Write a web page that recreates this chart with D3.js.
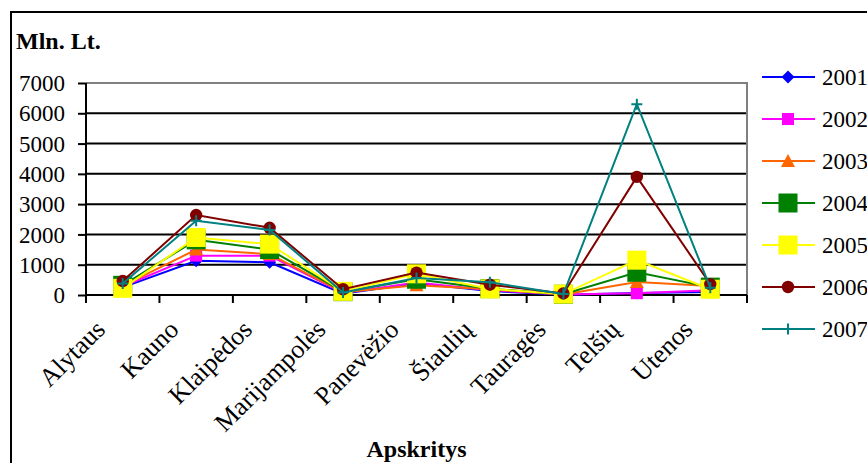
<!DOCTYPE html>
<html><head><meta charset="utf-8">
<script src="https://cdn.jsdelivr.net/npm/d3@7"></script>
<style>html,body{margin:0;padding:0;background:#fff;}svg{display:block;}</style>
</head><body>
<svg id="chart" width="867" height="463"></svg>
<script>
const categories = ["Alytaus","Kauno","Klaipėdos","Marijampolės","Panevėžio","Šiaulių","Tauragės","Telšių","Utenos"];
const years = ["2001","2002","2003","2004","2005","2006","2007"];
const v2001 = [250, 1130, 1080, 40, 390, 130, 10, 70, 100];
const v2002 = [280, 1300, 1300, 70, 410, 160, 15, 60, 160];
const v2003 = [300, 1500, 1350, 90, 320, 190, 20, 430, 300];
const v2004 = [320, 1820, 1500, 110, 520, 210, 25, 750, 260];
const v2005 = [220, 1900, 1680, 120, 700, 200, 30, 1150, 190];
const v2006 = [460, 2640, 2220, 190, 740, 340, 50, 3900, 360];
const v2007 = [380, 2450, 2150, 80, 560, 420, 30, 6300, 240];
const yTicks = [0,1000,2000,3000,4000,5000,6000,7000];
const yTitle = "Mln. Lt.";
const xTitle = "Apskritys";

const seriesValues = [v2001, v2002, v2003, v2004, v2005, v2006, v2007];
const colors = ["#0000FF","#FF00FF","#FF6600","#008000","#FFFF00","#800000","#008080"];
const shapes = ["diamond","smallsquare","triangle","square","square","circle","plus"];

const svg = d3.select("#chart");
const font = "'Liberation Serif','Times New Roman',serif";
const L = 86, R = 747, T = 83, B = 295;

// outer frame
svg.append("rect").attr("x",11).attr("y",12).attr("width",900).attr("height",500)
  .attr("fill","none").attr("stroke","#000").attr("stroke-width",2);

const x = d3.scaleBand().domain(categories).range([L,R]).padding(0);
const y = d3.scaleLinear().domain([0,7000]).range([B,T]);
const cx = c => x(c) + x.bandwidth()/2;

// gridlines
svg.append("g").selectAll("line").data(yTicks.filter(t=>t>0 && t<7000)).join("line")
  .attr("x1",L).attr("x2",R).attr("y1",d=>y(d)).attr("y2",d=>y(d))
  .attr("stroke","#000").attr("stroke-width",2);
// top & right border (gray)
svg.append("line").attr("x1",L).attr("x2",R+1).attr("y1",y(7000)).attr("y2",y(7000)).attr("stroke","#808080").attr("stroke-width",2);
svg.append("line").attr("x1",R).attr("x2",R).attr("y1",T).attr("y2",B).attr("stroke","#808080").attr("stroke-width",2);

// y axis
const yAxis = svg.append("g").attr("transform",`translate(${L},0)`)
  .call(d3.axisLeft(y).tickValues(yTicks).tickSize(8).tickPadding(13).tickFormat(d3.format("d")));
yAxis.select(".domain").attr("stroke","#000").attr("stroke-width",2).attr("d",`M0,${T}V${B}`);
yAxis.selectAll(".tick line").attr("stroke","#000").attr("stroke-width",2);
yAxis.selectAll(".tick text").attr("font-family",font).attr("font-size",23).attr("fill","#000").attr("dy","0.33em");

// x axis
const xAxis = svg.append("g").attr("transform",`translate(0,${B})`)
  .call(d3.axisBottom(x).tickSize(0).tickFormat(""));
xAxis.select(".domain").attr("stroke","#000").attr("stroke-width",2).attr("d",`M${L},0H${R}`);
const bounds = categories.map(c=>x(c)).concat([R]);
xAxis.selectAll("line.bt").data(bounds).join("line").attr("class","bt")
  .attr("x1",d=>d).attr("x2",d=>d).attr("y1",0).attr("y2",8).attr("stroke","#000").attr("stroke-width",2);
svg.append("g").selectAll("text").data(categories).join("text")
  .attr("transform",d=>`translate(${cx(d)-16},${B+36}) rotate(-45)`)
  .attr("text-anchor","end").attr("font-family",font).attr("font-size",26).attr("fill","#000")
  .text(d=>d);

// titles
svg.append("text").attr("x",16).attr("y",49).attr("font-family",font).attr("font-weight","bold").attr("font-size",24).text(yTitle);
svg.append("text").attr("x",(L+R)/2).attr("y",457).attr("text-anchor","middle").attr("font-family",font).attr("font-weight","bold").attr("font-size",24).text(xTitle);

function drawMarker(g, shape, color, px, py){
  if(shape==="diamond"){
    g.append("path").attr("d",`M${px},${py-6.5}L${px+6.5},${py}L${px},${py+6.5}L${px-6.5},${py}Z`).attr("fill",color);
  } else if(shape==="smallsquare"){
    g.append("rect").attr("x",px-6).attr("y",py-6).attr("width",12).attr("height",12).attr("fill",color);
  } else if(shape==="triangle"){
    g.append("path").attr("d",`M${px},${py-7}L${px+7},${py+6}L${px-7},${py+6}Z`).attr("fill",color);
  } else if(shape==="square"){
    g.append("rect").attr("x",px-9.5).attr("y",py-9.5).attr("width",19).attr("height",19).attr("fill",color);
  } else if(shape==="circle"){
    g.append("circle").attr("cx",px).attr("cy",py).attr("r",6.2).attr("fill",color);
  } else if(shape==="plus"){
    g.append("path").attr("d",`M${px-5.5},${py}H${px+5.5}M${px},${py-5.5}V${py+5.5}`).attr("stroke",color).attr("stroke-width",2).attr("fill","none");
  }
}

const line = d3.line().x((d,i)=>cx(categories[i])).y(d=>y(d));
seriesValues.forEach((vals,si)=>{
  const g = svg.append("g");
  g.append("path").attr("d",line(vals)).attr("fill","none").attr("stroke",colors[si]).attr("stroke-width",2);
  vals.forEach((v,i)=>drawMarker(g, shapes[si], colors[si], cx(categories[i]), y(v)));
});

// legend
const lg = svg.append("g");
years.forEach((yr,i)=>{
  const ly = 77 + i*42;
  lg.append("line").attr("x1",762).attr("x2",815).attr("y1",ly).attr("y2",ly).attr("stroke",colors[i]).attr("stroke-width",2);
  drawMarker(lg, shapes[i], colors[i], 788, ly);
  lg.append("text").attr("x",822).attr("y",ly).attr("dy","0.33em").attr("font-family",font).attr("font-size",23).text(yr);
});
</script>
</body></html>
